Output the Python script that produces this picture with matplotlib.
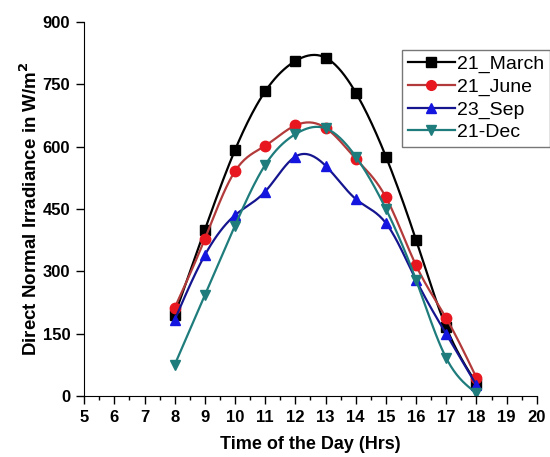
import numpy as np
import matplotlib.pyplot as plt
from matplotlib.ticker import MultipleLocator

plt.rcParams['font.family'] = ['Liberation Sans', 'DejaVu Sans']

# hours and irradiance values
hours = [8, 9, 10, 11, 12, 13, 14, 15, 16, 17, 18]
march = [195, 400, 592, 733, 806, 814, 730, 576, 375, 165, 30]
june = [212, 378, 541, 602, 651, 645, 571, 478, 314, 187, 44]
sep = [183, 339, 435, 492, 576, 554, 474, 416, 279, 149, 26]
dec = [75, 243, 410, 556, 630, 644, 576, 450, 279, 91, 7]

labels = ['21_March', '21_June', '23_Sep', '21-Dec']
line_colors = ['black', '#b23a3a', '#151590', '#1f7c7c']
face_colors = ['black', '#e8171f', '#1515e0', '#1f7c7c']
markers = ['s', 'o', '^', 'v']


def smooth(x, y, n=200):
    # natural cubic spline through the points, used only for drawing the line
    x = np.asarray(x, float)
    y = np.asarray(y, float)
    k = len(x)
    h = np.diff(x)
    A = np.zeros((k, k))
    b = np.zeros(k)
    A[0, 0] = A[-1, -1] = 1
    for i in range(1, k - 1):
        A[i, i - 1] = h[i - 1]
        A[i, i] = 2 * (h[i - 1] + h[i])
        A[i, i + 1] = h[i]
        b[i] = 6 * ((y[i + 1] - y[i]) / h[i] - (y[i] - y[i - 1]) / h[i - 1])
    m = np.linalg.solve(A, b)
    xs = np.linspace(x[0], x[-1], n)
    idx = np.clip(np.searchsorted(x, xs) - 1, 0, k - 2)
    x0, x1 = x[idx], x[idx + 1]
    hh = x1 - x0
    t1 = x1 - xs
    t0 = xs - x0
    ys = (m[idx] * t1**3 + m[idx + 1] * t0**3) / (6 * hh) \
        + (y[idx] / hh - m[idx] * hh / 6) * t1 \
        + (y[idx + 1] / hh - m[idx + 1] * hh / 6) * t0
    return xs, ys


fig = plt.figure(figsize=(5.5, 4.57), dpi=100)
ax = fig.add_axes([0.153, 0.1335, 0.823, 0.8185])

handles = []
for vals, lab, lc, fc, mk in zip([march, june, sep, dec], labels, line_colors, face_colors, markers):
    xs, ys = smooth(hours, vals)
    ax.plot(xs, ys, color=lc, lw=1.6)
    ax.plot(hours, vals, ls='none', marker=mk, ms=7.5, mfc=fc, mec=fc)
    h, = ax.plot([], [], color=lc, lw=1.6, marker=mk, ms=7, mfc=fc, mec=fc, label=lab)
    handles.append(h)

ax.set_xlim(5, 20)
ax.set_ylim(0, 900)
ax.xaxis.set_major_locator(MultipleLocator(1))
ax.xaxis.set_minor_locator(MultipleLocator(0.5))
ax.yaxis.set_major_locator(MultipleLocator(150))
ax.spines['top'].set_visible(False)
ax.spines['right'].set_visible(False)
ax.tick_params(which='major', direction='out', length=6, width=1, labelsize=12, pad=4)
ax.tick_params(which='minor', direction='out', length=3, width=1)
for t in ax.get_xticklabels() + ax.get_yticklabels():
    t.set_fontweight('bold')

ax.set_xlabel('Time of the Day (Hrs)', fontsize=13, fontweight='bold', labelpad=8)
ax.set_ylabel(r'Direct Normal Irradiance in W/m$^\mathbf{2}$', fontsize=13.5, fontweight='bold', labelpad=1)

leg = fig.legend(handles=handles, loc='upper left', bbox_to_anchor=(0.731, 0.891),
                 fontsize=14, frameon=True, fancybox=False, edgecolor='#555555',
                 handlelength=2.4, handletextpad=0.15, labelspacing=0.25,
                 borderpad=0.3, borderaxespad=0)
leg.get_frame().set_linewidth(1)

fig.savefig('out.png', dpi=100)
